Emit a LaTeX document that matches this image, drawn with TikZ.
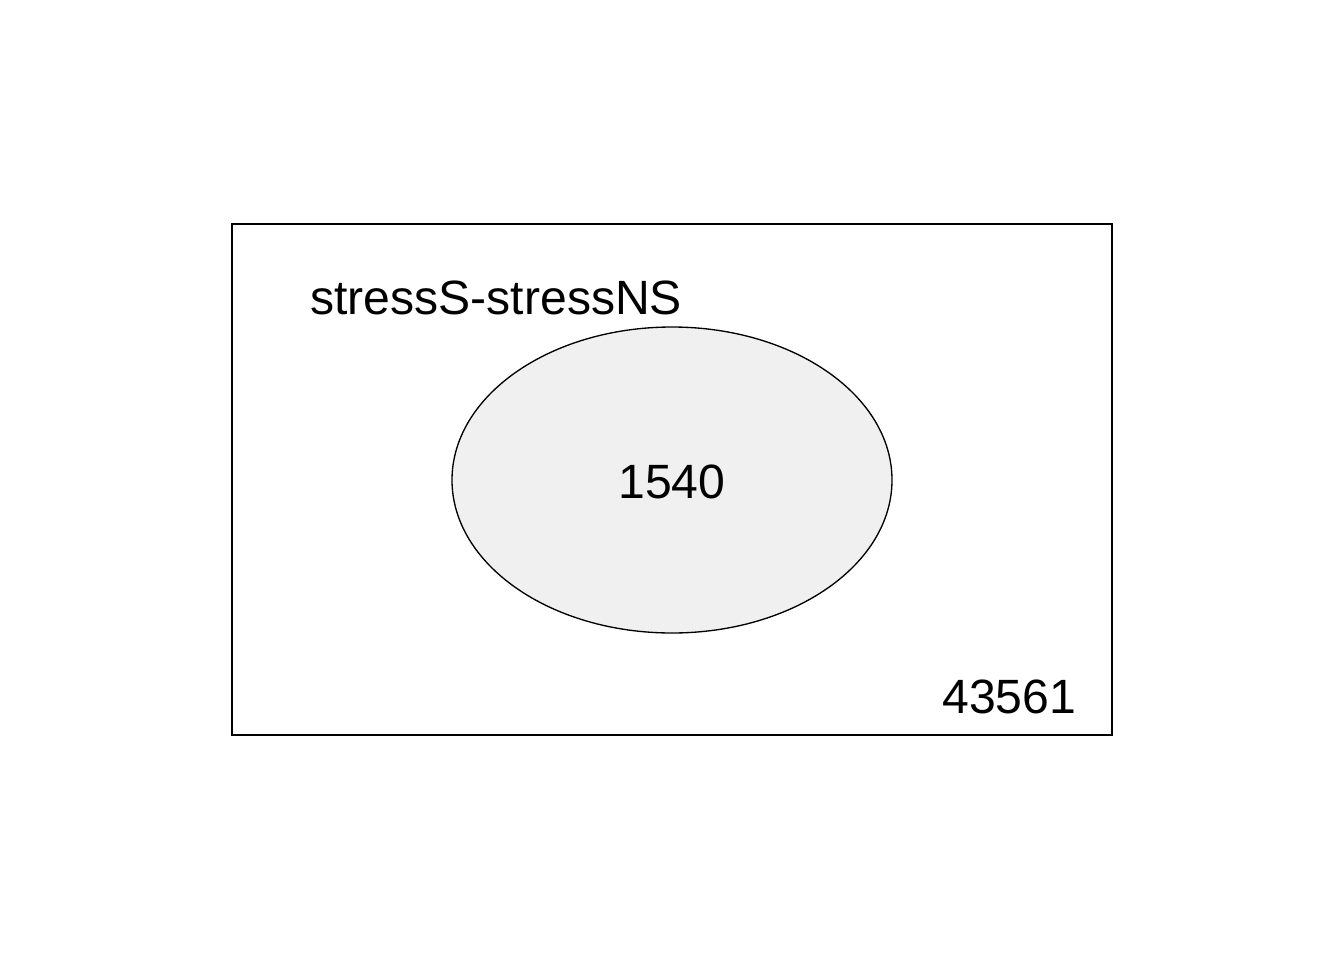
\documentclass[tikz,border=0pt]{standalone}
\usepackage{fontspec}
\setmainfont{Liberation Sans}
\definecolor{setfill}{HTML}{F0F0F0}
\tikzset{
  lbl/.style={inner sep=0pt, font=\fontsize{36.1}{40}\selectfont},
  frame/.style={draw=black, line width=1pt},
}
\begin{document}
\begin{tikzpicture}[x=0.75pt,y=-0.75pt]
\useasboundingbox (0,0) rectangle (1344,960);
\fill[white] (0,0) rectangle (1344,960);
\draw[frame] (232,224) rectangle (1112,735);
\draw[frame, fill=setfill] (672,480) ellipse [x radius=220, y radius=153];
\node[lbl, anchor=base west] (setname) at (310,314) {stressS-stressNS};
\node[lbl, anchor=base] (inside) at (672,498) {1540};
\node[lbl, anchor=base west] (outside) at (942,713) {43561};
\end{tikzpicture}
\end{document}
